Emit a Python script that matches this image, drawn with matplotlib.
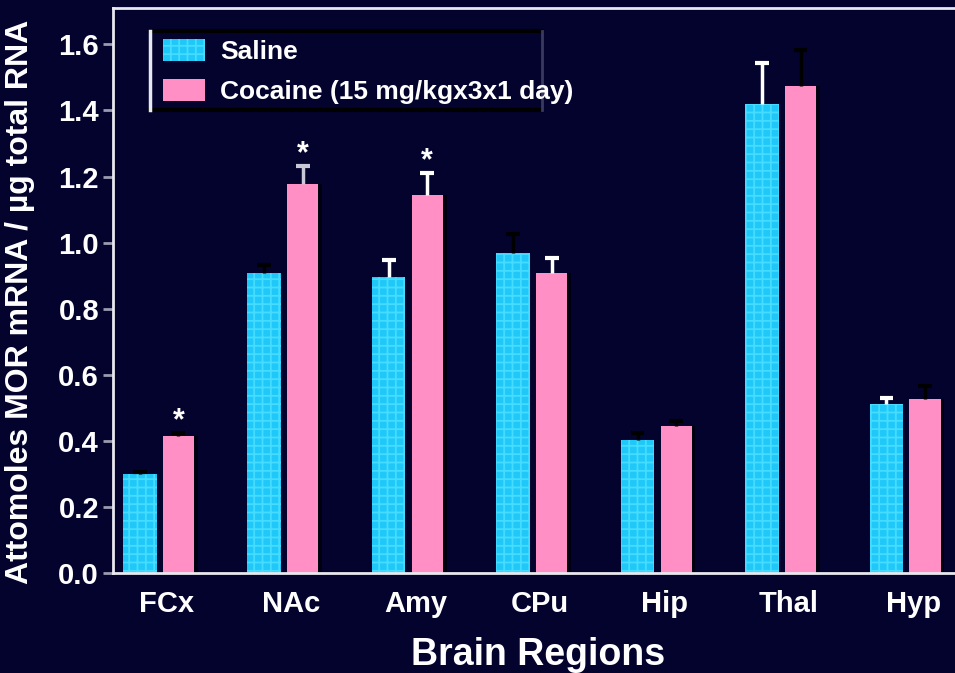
import numpy as np
import matplotlib
matplotlib.use("Agg")
import matplotlib.pyplot as plt
from matplotlib.lines import Line2D

regions = ["FCx", "NAc", "Amy", "CPu", "Hip", "Thal", "Hyp"]
saline = [0.30, 0.909, 0.897, 0.967, 0.403, 1.418, 0.512]
saline_err = [0.005, 0.024, 0.05, 0.06, 0.021, 0.127, 0.018]
cocaine = [0.415, 1.176, 1.145, 0.909, 0.445, 1.473, 0.527]
cocaine_err = [0.008, 0.057, 0.067, 0.043, 0.015, 0.109, 0.04]
significant = [True, True, True, False, False, False, False]

# colour of each error bar (mixed dark / white)
saline_ecol = ["#000000", "#000000", "#ffffff", "#000000", "#000000", "#ffffff", "#ffffff"]
cocaine_ecol = ["#000000", "#c8c8d8", "#ffffff", "#ffffff", "#000000", "#000000", "#000000"]

BG = "#03032e"
CYAN = "#1fc8f8"
PINK = "#ff8fc4"

plt.rcParams["font.family"] = ["Liberation Sans", "DejaVu Sans"]
plt.rcParams["font.weight"] = "bold"
plt.rcParams["hatch.linewidth"] = 1.3

fig = plt.figure(figsize=(9.55, 6.73), dpi=100, facecolor=BG)
ax = fig.add_axes([113 / 955, 100 / 673, 850 / 955, 565 / 673], facecolor=BG)

x = np.arange(len(regions))
ws, wc = 0.27, 0.25
xs = x - 0.215
xc = x + 0.095

ax.bar(xs, saline, ws, color=CYAN, edgecolor="#45dcff", hatch="++", linewidth=0,
       label="Saline", zorder=2)
# dark drop shadow to the right of the cocaine bars
ax.bar(xc + 0.03, cocaine, wc, color="#000010", linewidth=0, zorder=1)
ax.bar(xc, cocaine, wc, color=PINK, linewidth=0,
       label="Cocaine (15 mg/kgx3x1 day)", zorder=2)

# upper-only error bars with a single cap
cap = 0.055
for i in range(len(regions)):
    for xp, v, e, col in [(xs[i], saline[i], saline_err[i], saline_ecol[i]),
                          (xc[i], cocaine[i], cocaine_err[i], cocaine_ecol[i])]:
        ax.vlines(xp, v, v + e, color=col, lw=2.5, zorder=3)
        ax.hlines(v + e, xp - cap, xp + cap, color=col, lw=3, zorder=3)
    if significant[i]:
        ax.text(xc[i], cocaine[i] + cocaine_err[i] - 0.01, "*", color="white",
                ha="center", va="bottom", fontsize=22, zorder=4)

ax.set_xlim(-0.43, 6.40)
ax.set_ylim(0, 1.71)
ax.set_yticks(np.arange(0, 1.61, 0.2))
ax.set_yticklabels([f"{v:.1f}" for v in np.arange(0, 1.61, 0.2)])
ax.set_xticks(x)
ax.set_xticklabels(regions)

ax.tick_params(axis="y", colors="white", labelsize=21, length=7, width=2,
               direction="out", color="#9a9ab0", pad=3)
ax.tick_params(axis="x", colors="white", labelsize=21, length=0, pad=12)

for side in ["left", "bottom", "top"]:
    ax.spines[side].set_color("#e8e8f0")
    ax.spines[side].set_linewidth(2)
ax.spines["right"].set_visible(False)

ax.set_xlabel("Brain Regions", color="white", fontsize=27, fontweight="bold", labelpad=14)
ax.set_ylabel("Attomoles MOR mRNA / µg total RNA", color="white", fontsize=23,
              fontweight="bold")
ax.yaxis.set_label_coords(-0.092, 0.48)

# legend without its own frame; box drawn separately below
leg = ax.legend(loc="upper left", bbox_to_anchor=(0.059, 0.945), fontsize=19,
                frameon=False, handlelength=1.6, handleheight=0.9,
                labelspacing=0.57, borderpad=0, borderaxespad=0, handletextpad=0.55)
for t in leg.get_texts():
    t.set_color("white")
    t.set_fontweight("bold")

# legend box: white left edge, black top/bottom, grey right edge
bx0, bx1 = 0.044, 0.505
by0, by1 = 0.82, 0.96
tr = ax.transAxes
ax.add_line(Line2D([bx0, bx1], [by1, by1], color="#000000", lw=3, transform=tr, zorder=5))
ax.add_line(Line2D([bx0, bx1], [by0, by0], color="#000000", lw=3, transform=tr, zorder=5))
ax.add_line(Line2D([bx1, bx1], [by0, by1], color="#3a3a60", lw=2, transform=tr, zorder=5))
ax.add_line(Line2D([bx0, bx0], [by0, by1], color="#e8e8f0", lw=2.5, transform=tr, zorder=5))

fig.savefig("out.png", dpi=100, facecolor=BG)
